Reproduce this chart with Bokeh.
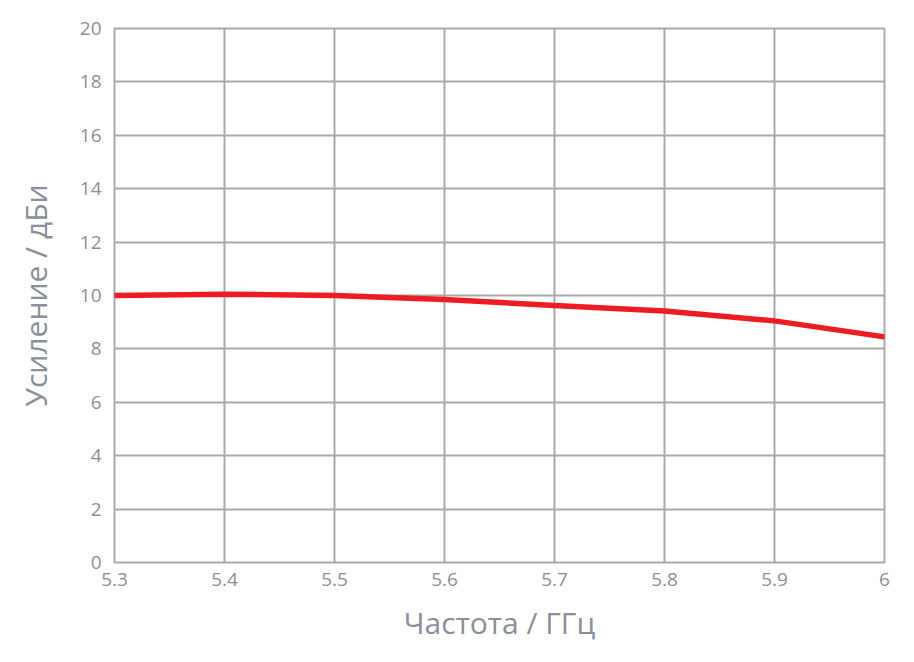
from bokeh.plotting import figure
from bokeh.models import Range1d, FixedTicker
from bokeh.embed import file_html
from bokeh.resources import INLINE

freq = [5.3, 5.4, 5.5, 5.6, 5.7, 5.8, 5.9, 6.0]
gain = [10.0, 10.05, 10.0, 9.85, 9.63, 9.42, 9.05, 8.45]
x_ticks = [5.3, 5.4, 5.5, 5.6, 5.7, 5.8, 5.9, 6.0]
x_tick_labels = {5.3: "5.3", 5.4: "5.4", 5.5: "5.5", 5.6: "5.6", 5.7: "5.7", 5.8: "5.8", 5.9: "5.9", 6.0: "6"}
y_ticks = [0, 2, 4, 6, 8, 10, 12, 14, 16, 18, 20]

GRID = "#a9a9a9"
TXT = "#8a909b"
FONT = "Open Sans"

p = figure(width=898, height=646, output_backend="svg", toolbar_location=None,
           x_range=Range1d(5.3, 6.0), y_range=Range1d(0, 20),
           min_border_left=114, min_border_right=14, min_border_top=28, min_border_bottom=84)

p.line(freq, gain, line_color="#ed1c24", line_width=5.5, line_cap="round")

p.outline_line_color = GRID
p.outline_line_width = 2
p.background_fill_color = "white"
p.border_fill_color = "white"

for g in (p.xgrid, p.ygrid):
    g.grid_line_color = GRID
    g.grid_line_width = 2
p.xgrid.ticker = FixedTicker(ticks=x_ticks)
p.ygrid.ticker = FixedTicker(ticks=y_ticks)

xa = p.xaxis[0]
xa.ticker = FixedTicker(ticks=x_ticks)
xa.major_label_overrides = {k: v for k, v in x_tick_labels.items()}
xa.axis_label = "Частота / ГГц"
ya = p.yaxis[0]
ya.ticker = FixedTicker(ticks=y_ticks)
ya.axis_label = "Усиление / дБи"

for a in (xa, ya):
    a.axis_line_color = None
    a.major_tick_line_color = None
    a.minor_tick_line_color = None
    a.major_tick_out = 0
    a.major_tick_in = 0
    a.major_label_text_font = FONT
    a.major_label_text_font_size = "19px"
    a.major_label_text_color = TXT
    a.axis_label_text_font = FONT
    a.axis_label_text_font_size = "30px"
    a.axis_label_text_font_style = "normal"
    a.axis_label_text_color = TXT

xa.major_label_standoff = 10
xa.axis_label_standoff = 13
ya.major_label_standoff = 13
ya.axis_label_standoff = 21

open("out.html", "w").write(file_html(p, INLINE))
